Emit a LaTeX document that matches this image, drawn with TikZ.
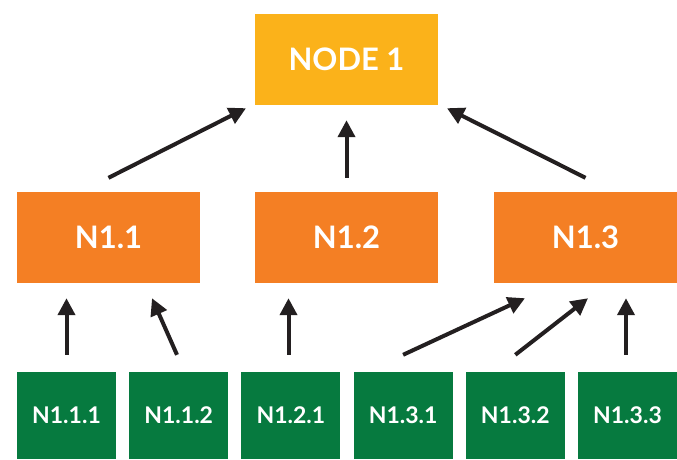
\documentclass[tikz,border=0pt]{standalone}
\usepackage{fontspec}
\setmainfont{Lato}
\usetikzlibrary{arrows.meta}

\definecolor{topyellow}{HTML}{FBB21A}
\definecolor{midorange}{HTML}{F47F24}
\definecolor{leafgreen}{HTML}{067A3F}
\definecolor{arrowblack}{HTML}{231F20}

\begin{document}
\begin{tikzpicture}[x=1pt, y=-1pt,
	box/.style={inner sep=0pt, text=white, font=\bfseries},
	topbox/.style={box, fill=topyellow, minimum width=183pt, minimum height=91pt, font=\bfseries\fontsize{31}{31}\selectfont},
	midbox/.style={box, fill=midorange, minimum width=183pt, minimum height=91pt, font=\bfseries\fontsize{31}{31}\selectfont},
	leafbox/.style={box, fill=leafgreen, minimum width=99pt, minimum height=87pt, font=\bfseries\fontsize{23}{23}\selectfont},
	arr/.style={draw=arrowblack, line width=4pt, -{Triangle[length=17pt,width=17pt]}}]
	\useasboundingbox (0,0) rectangle (677,459);

	\node[topbox] at (346.5, 59.5) (n1) {NODE 1};

	\node[midbox] at (108.5, 237.5) (n11) {N1.1};
	\node[midbox] at (346.5, 237.5) (n12) {N1.2};
	\node[midbox] at (585.5, 237.5) (n13) {N1.3};

	\node[leafbox] at (66.5, 415.5) (n111) {N1.1.1};
	\node[leafbox] at (178.7, 415.5) (n112) {N1.1.2};
	\node[leafbox] at (290.9, 415.5) (n121) {N1.2.1};
	\node[leafbox] at (403.1, 415.5) (n131) {N1.3.1};
	\node[leafbox] at (515.3, 415.5) (n132) {N1.3.2};
	\node[leafbox] at (627.5, 415.5) (n133) {N1.3.3};

	% leaves to middle row
	\draw[arr] ([yshift=17pt]n111.north) -- ([yshift=-15pt]n111.north |- n11.south);
	\draw[arr] ([xshift=-1.7pt,yshift=17pt]n112.north) -- ([xshift=43.5pt,yshift=-15pt]n11.south);
	\draw[arr] ([xshift=-2.4pt,yshift=17pt]n121.north) -- ([xshift=-2.4pt,yshift=-15pt]n121.north |- n12.south);
	\draw[arr] ([yshift=17pt]n131.north) -- ([xshift=-60.5pt,yshift=-15pt]n13.south);
	\draw[arr] ([yshift=17pt]n132.north) -- ([xshift=2.5pt,yshift=-15pt]n13.south);
	\draw[arr] ([xshift=-1.5pt,yshift=17pt]n133.north) -- ([xshift=-1.5pt,yshift=-15pt]n133.north |- n13.south);

	% middle row to top
	\draw[arr] ([yshift=14pt]n11.north) -- ([xshift=-100.5pt,yshift=-3pt]n1.south);
	\draw[arr] ([yshift=14pt]n12.north) -- ([yshift=-15pt]n1.south);
	\draw[arr] ([yshift=14pt]n13.north) -- ([xshift=100.5pt,yshift=-3pt]n1.south);
\end{tikzpicture}
\end{document}
